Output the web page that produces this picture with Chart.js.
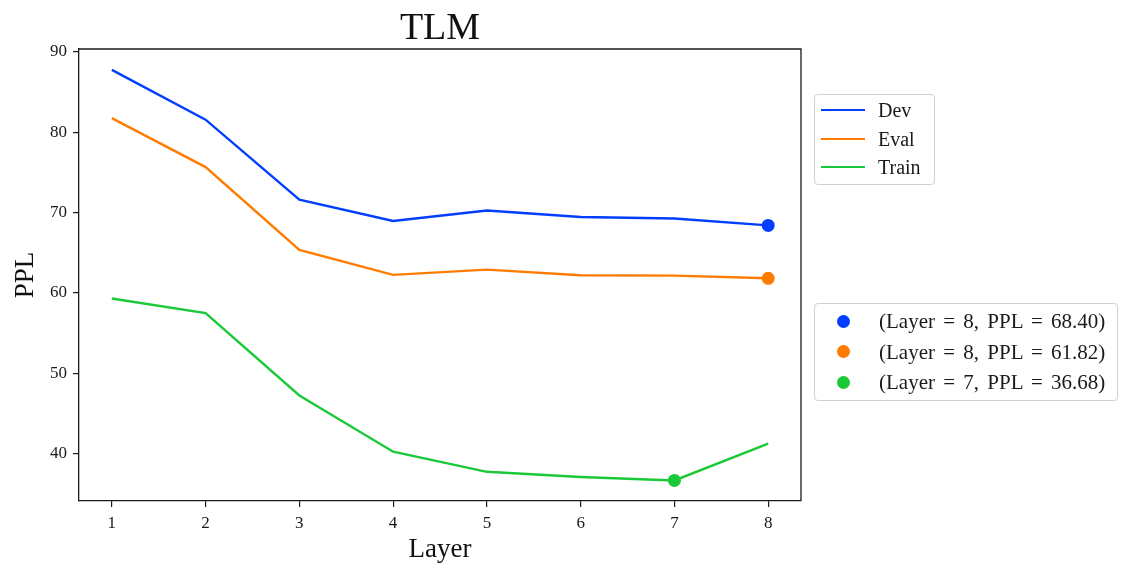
<!DOCTYPE html>
<html>
<head>
<meta charset="utf-8">
<script src="https://cdn.jsdelivr.net/npm/chart.js@4.4.1/dist/chart.umd.min.js"></script>
<style>
  html, body { margin: 0; padding: 0; background: #fff; }
  #wrap { position: relative; width: 1124px; height: 567px; font-family: "Liberation Serif", "DejaVu Serif", serif; color: #1a1a1a; }
  #chart { position: absolute; left: 0; top: 0; }
  .legend { position: absolute; box-sizing: border-box; border: 1.3px solid #d0d0d0; border-radius: 4px; background: rgba(255,255,255,0.85); }
  .row { position: absolute; left: 0; height: 28px; line-height: 28px; font-size: 20px; white-space: nowrap; }
  #legendBest .row { font-size: 21px; word-spacing: 3px; }
  .swatch { position: absolute; left: 6px; top: 13px; width: 44px; height: 2.4px; }
  .dot { position: absolute; left: 22px; top: 7.5px; width: 13px; height: 13px; border-radius: 50%; }
  .label { position: absolute; top: 0; }
</style>
</head>
<body>
<div id="wrap">
  <canvas id="chart" width="1124" height="567"></canvas>
  <div id="legendLines" class="legend" style="left:814px; top:94px; width:121px; height:91px;"></div>
  <div id="legendBest" class="legend" style="left:814px; top:303px; width:304px; height:98px;"></div>
</div>
<script>
// values
const layers = [1, 2, 3, 4, 5, 6, 7, 8];
const devPPL = [87.75, 81.55, 71.6, 68.95, 70.25, 69.45, 69.25, 68.40];
const evalPPL = [81.75, 75.65, 65.35, 62.25, 62.9, 62.2, 62.15, 61.82];
const trainPPL = [59.3, 57.5, 47.25, 40.25, 37.75, 37.1, 36.68, 41.25];

const seriesNames = ['Dev', 'Eval', 'Train'];
const seriesColors = ['#023eff', '#ff7c00', '#1ac938'];

// best point of each series
const bestLayer = [8, 8, 7];
const bestPPL = [68.40, 61.82, 36.68];

const yTicks = [40, 50, 60, 70, 80, 90];
const titleText = 'TLM';
const serif = '"Liberation Serif", "DejaVu Serif", serif';

const allSeries = [devPPL, evalPPL, trainPPL];

const lineSets = allSeries.map((vals, i) => ({
    type: 'line',
    label: seriesNames[i],
    data: layers.map((x, j) => ({ x: x, y: vals[j] })),
    borderColor: seriesColors[i],
    borderWidth: 2.4,
    pointRadius: 0,
    tension: 0,
    fill: false,
    order: 1
}));

const bestSets = bestLayer.map((x, i) => ({
    type: 'scatter',
    label: '(Layer = ' + x + ', PPL = ' + bestPPL[i].toFixed(2) + ')',
    data: [{ x: x, y: bestPPL[i] }],
    backgroundColor: seriesColors[i],
    borderWidth: 0,
    pointRadius: 6.5,
    order: 0
}));

// top/right frame lines and the title
const framePlugin = {
    id: 'frame',
    afterDraw(chart) {
        const ctx = chart.ctx;
        const a = chart.chartArea;
        ctx.save();
        ctx.strokeStyle = '#1a1a1a';
        ctx.lineWidth = 1.3;
        ctx.beginPath();
        ctx.moveTo(a.left, a.top);
        ctx.lineTo(a.right, a.top);
        ctx.lineTo(a.right, a.bottom);
        ctx.stroke();
        ctx.fillStyle = '#111';
        ctx.font = '38px ' + serif;
        ctx.textAlign = 'center';
        ctx.textBaseline = 'alphabetic';
        ctx.fillText(titleText, (a.left + a.right) / 2, 39);
        ctx.restore();
    }
};

const axisCommon = {
    type: 'linear',
    grid: { drawOnChartArea: false, drawTicks: true, tickLength: 6, color: '#1a1a1a', lineWidth: 1.2 },
    border: { display: true, color: '#1a1a1a', width: 1.3 },
    ticks: { color: '#1a1a1a', font: { family: serif, size: 17 }, padding: 6 }
};

new Chart(document.getElementById('chart').getContext('2d'), {
    data: { datasets: lineSets.concat(bestSets) },
    options: {
        responsive: false,
        animation: false,
        events: [],
        layout: { padding: { top: 49, right: 323, left: 0, bottom: 0 } },
        plugins: {
            legend: { display: false },
            tooltip: { enabled: false },
            title: { display: false }
        },
        scales: {
            x: Object.assign({}, axisCommon, {
                position: 'bottom',
                min: 0.65,
                max: 8.35,
                afterBuildTicks: s => { s.ticks = layers.map(v => ({ value: v })); },
                afterFit: s => { s.height = 66; },
                title: { display: true, text: 'Layer', color: '#111', font: { family: serif, size: 27 }, padding: { top: 0, bottom: 1 } }
            }),
            y: Object.assign({}, axisCommon, {
                position: 'left',
                min: 34.12,
                max: 90.34,
                afterBuildTicks: s => { s.ticks = yTicks.map(v => ({ value: v })); },
                afterFit: s => { s.width = 79; },
                title: { display: true, text: 'PPL', color: '#111', font: { family: serif, size: 27 }, padding: { top: 10, bottom: 0 } }
            })
        }
    },
    plugins: [framePlugin]
});

// legends
const legLines = document.getElementById('legendLines');
seriesNames.forEach((name, i) => {
    const row = document.createElement('div');
    row.className = 'row';
    row.style.top = (1 + i * 28.5) + 'px';
    row.style.width = '100%';
    row.innerHTML = '<div class="swatch" style="background:' + seriesColors[i] + '"></div>' +
        '<div class="label" style="left:63px">' + name + '</div>';
    legLines.appendChild(row);
});

const legBest = document.getElementById('legendBest');
bestSets.forEach((ds, i) => {
    const row = document.createElement('div');
    row.className = 'row';
    row.style.top = (3 + i * 30.5) + 'px';
    row.style.width = '100%';
    row.innerHTML = '<div class="dot" style="background:' + seriesColors[i] + '"></div>' +
        '<div class="label" style="left:64px">' + ds.label + '</div>';
    legBest.appendChild(row);
});
</script>
</body>
</html>
